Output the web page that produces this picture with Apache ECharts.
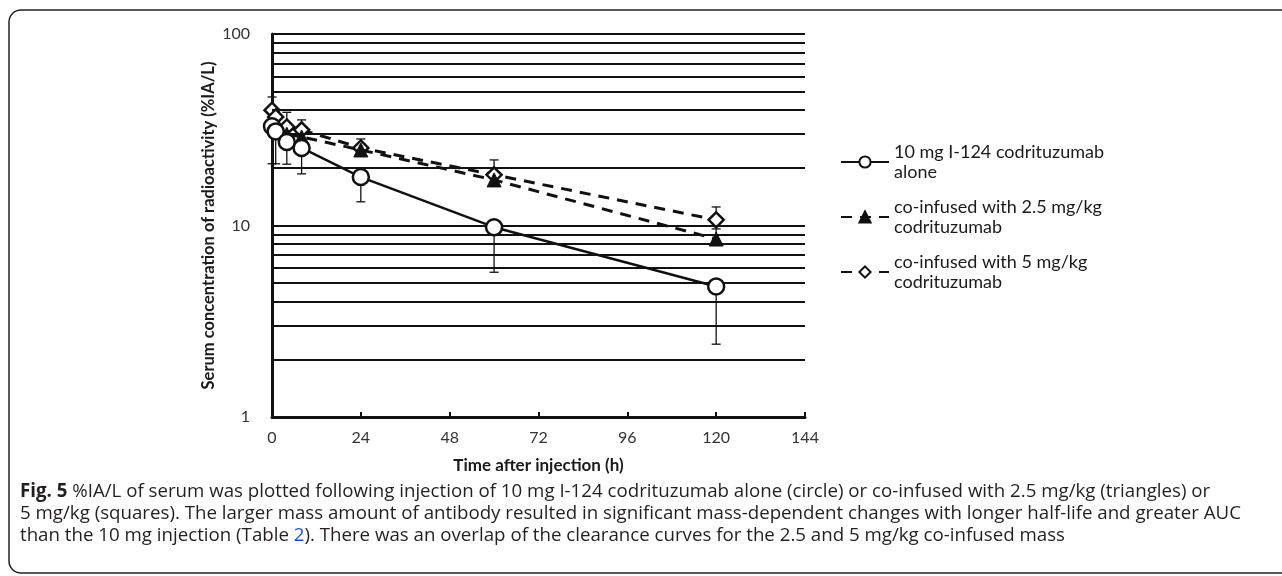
<!DOCTYPE html>
<html>
<head>
<meta charset="utf-8">
<script src="https://cdn.jsdelivr.net/npm/echarts@6/dist/echarts.min.js"></script>
<style>
  html, body { margin: 0; padding: 0; background: #fff; }
  #chart { width: 1282px; height: 576px; }
</style>
</head>
<body>
<div id="chart"></div>
<script>
// sampling times (h)
const hours = [0, 1, 4, 8, 24, 60, 120]
// 10 mg I-124 codrituzumab alone (circles), lower error bars
const aloneValues = [33, 31, 27.3, 25.4, 17.9, 9.8, 4.8]
const aloneLower = [21, 21, 20.9, 18.6, 13.3, 5.7, 2.4]
// co-infused with 2.5 mg/kg (triangles)
const tri25Values = [33.5, 31.5, 30, 29, 24.8, 17.3, 8.5]
const tri25Upper = [35.5, 33.5, 32, 31, 26.5, 18.8, 9.6]
// co-infused with 5 mg/kg (diamonds), upper error bars
const dia5Values = [40, 36.9, 32.7, 31.6, 25.4, 18.4, 10.7]
const dia5Upper = [46.9, 40, 39, 35.6, 28.3, 22, 12.5]
// horizontal reference lines
const gridValues = [2, 3, 4, 5, 6, 7, 8, 9, 10, 20, 30, 40, 50, 60, 70, 80, 90, 100]
const xTicks = [0, 24, 48, 72, 96, 120, 144]

const names = [
  '10 mg I-124 codrituzumab\nalone',
  'co-infused with 2.5 mg/kg\ncodrituzumab',
  'co-infused with 5 mg/kg\ncodrituzumab'
]
const chartFont = 'Lato'
const captionFont = 'Open Sans'

function pairs (vals) {
  return hours.map((h, i) => [h, vals[i]])
}
function errData (vals, ends) {
  return hours.map((h, i) => [h, vals[i], ends[i]])
}
function renderErr (params, api) {
  const p0 = api.coord([api.value(0), api.value(1)])
  const p1 = api.coord([api.value(0), api.value(2)])
  const st = { stroke: '#111', lineWidth: 1.3 }
  return {
    type: 'group',
    children: [
      { type: 'line', shape: { x1: p0[0], y1: p0[1], x2: p1[0], y2: p1[1] }, style: st },
      { type: 'line', shape: { x1: p1[0] - 4.5, y1: p1[1], x2: p1[0] + 4.5, y2: p1[1] }, style: st }
    ]
  }
}

const chart = echarts.init(document.getElementById('chart'))
chart.setOption({
  backgroundColor: '#fff',
  animation: false,
  textStyle: { fontFamily: chartFont },
  grid: { left: 272, right: 477, top: 34, bottom: 159 },
  legend: {
    orient: 'vertical',
    left: 835,
    top: 127,
    itemWidth: 48,
    itemHeight: 14,
    itemGap: -5,
    data: [names[0], names[1], names[2]],
    textStyle: { fontSize: 18, color: '#1a1a1a', lineHeight: 20, padding: [20, 0, 0, 0], fontFamily: chartFont }
  },
  xAxis: {
    type: 'value',
    min: 0,
    max: 144,
    interval: 24,
    name: 'Time after injection (h)',
    nameLocation: 'middle',
    nameGap: 40,
    nameTextStyle: { fontSize: 17, fontWeight: 'bold', color: '#1a1a1a' },
    axisLine: { lineStyle: { color: '#111', width: 3 } },
    axisTick: { inside: true, length: 5, lineStyle: { color: '#111', width: 2 } },
    axisLabel: {
      fontSize: 16,
      color: '#333',
      margin: 13,
      formatter: v => xTicks.indexOf(v) >= 0 ? String(v) : ''
    },
    splitLine: { show: false }
  },
  yAxis: {
    type: 'log',
    logBase: 10,
    min: 1,
    max: 100,
    name: 'Serum concentration of radioactivity (%IA/L)',
    nameLocation: 'middle',
    nameGap: 55,
    nameTextStyle: { fontSize: 16.5, fontWeight: 'bold', color: '#1a1a1a' },
    axisLine: { show: true, lineStyle: { color: '#111', width: 3 } },
    axisTick: { show: false },
    axisLabel: { fontSize: 16, color: '#333', margin: 22 },
    splitLine: { show: false },
    minorTick: { show: false },
    minorSplitLine: { show: false }
  },
  graphic: [
    {
      type: 'rect',
      shape: { x: 9, y: 10, width: 1320, height: 563, r: 12 },
      style: { fill: 'none', stroke: '#222', lineWidth: 1.5 },
      silent: true
    },
    {
      type: 'text',
      left: 20,
      top: 481,
      style: {
        text: '{b|Fig. 5} %IA/L of serum was plotted following injection of 10 mg I-124 codrituzumab alone (circle) or co-infused with 2.5 mg/kg (triangles) or\n' +
          '5 mg/kg (squares). The larger mass amount of antibody resulted in significant mass-dependent changes with longer half-life and greater AUC\n' +
          'than the 10 mg injection (Table {l|2}). There was an overlap of the clearance curves for the 2.5 and 5 mg/kg co-infused mass',
        fontSize: 18.7,
        lineHeight: 22,
        fill: '#231f20',
        fontFamily: captionFont,
        rich: {
          b: { fontSize: 18.7, fontWeight: 'bold', fill: '#231f20', fontFamily: captionFont },
          l: { fontSize: 18.7, fill: '#1a4fd6', fontFamily: captionFont }
        }
      }
    }
  ],
  series: [
    {
      name: 'gridlines',
      type: 'line',
      data: [],
      z: 1,
      markLine: {
        silent: true,
        symbol: ['none', 'none'],
        label: { show: false },
        lineStyle: { color: '#111', width: 2, type: 'solid' },
        data: gridValues.map(v => ({ yAxis: v }))
      }
    },
    {
      name: 'err5',
      type: 'custom',
      renderItem: renderErr,
      data: errData(dia5Values, dia5Upper),
      z: 2
    },
    {
      name: 'err25',
      type: 'custom',
      renderItem: renderErr,
      data: errData(tri25Values, tri25Upper),
      z: 2
    },
    {
      name: 'errAlone',
      type: 'custom',
      renderItem: renderErr,
      data: errData(aloneValues, aloneLower),
      z: 2
    },
    {
      name: names[2],
      type: 'line',
      data: pairs(dia5Values),
      symbol: 'diamond',
      symbolSize: 15,
      z: 3,
      lineStyle: { color: '#111', width: 3, type: [11, 8] },
      itemStyle: { color: '#fff', borderColor: '#111', borderWidth: 2.5 }
    },
    {
      name: names[1],
      type: 'line',
      data: pairs(tri25Values),
      symbol: 'triangle',
      symbolSize: 14,
      z: 4,
      lineStyle: { color: '#111', width: 3, type: [11, 8] },
      itemStyle: { color: '#111', borderColor: '#111', borderWidth: 1 }
    },
    {
      name: names[0],
      type: 'line',
      data: pairs(aloneValues),
      symbol: 'circle',
      symbolSize: 16,
      z: 5,
      lineStyle: { color: '#111', width: 2.5, type: 'solid' },
      itemStyle: { color: '#fff', borderColor: '#111', borderWidth: 2.5 }
    }
  ]
})
</script>
</body>
</html>
